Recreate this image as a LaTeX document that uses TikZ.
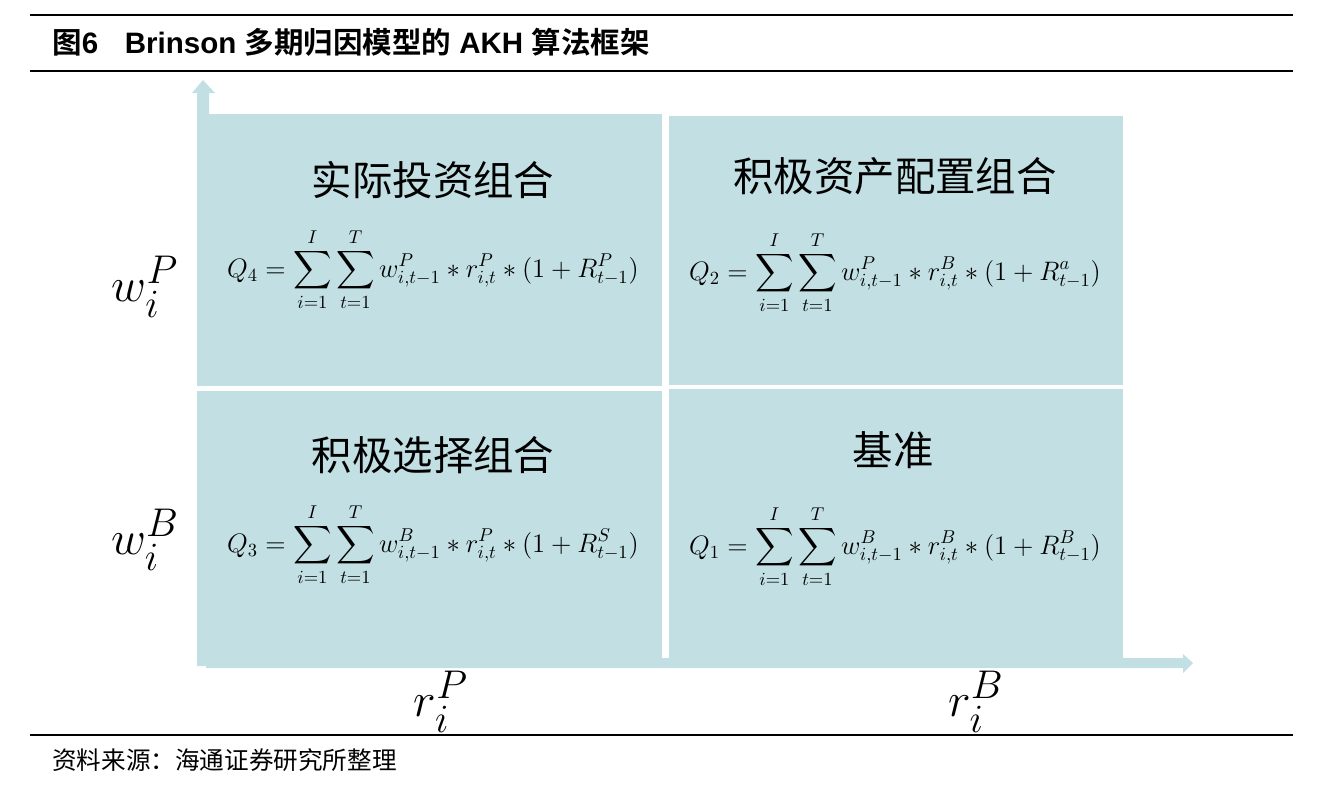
\documentclass[tikz,border=0pt]{standalone}
\usepackage{fontspec}
\usepackage{amsmath}
\setmainfont{Liberation Sans}
\newfontfamily\cjk{Noto Sans CJK SC}
\newfontfamily\cjkbold{Noto Sans CJK SC Bold}

\begin{document}
\begin{tikzpicture}[x=0.02cm, y=-0.02cm,
  quad/.style={fill=quadBlue, draw=none},
  qtitle/.style={font=\cjk\fontsize{23}{27}\selectfont},
  qformula/.style={font=\fontsize{14.4}{17}\selectfont, scale=1.055},
  axlabel/.style={font=\fontsize{24.88}{28}\selectfont, scale=1.1},
  rule/.style={line width=1.1pt}]

% Colori
\definecolor{quadBlue}{HTML}{C2E0E3}

\useasboundingbox (0,0) rectangle (1323,795);

% Titolo
\draw[rule] (30,15) -- (1293,15);
\node[anchor=west, inner sep=0pt, font=\fontsize{16.8}{20}\selectfont] (title) at (52,42)
  {{\cjkbold 图}{\bfseries 6\hspace{0.9em}Brinson }{\cjkbold 多期归因模型的}{\bfseries\ AKH }{\cjkbold 算法框架}};
\draw[rule] (30,71) -- (1293,71);

% Quadranti
\fill[quad] (197,114) rectangle (662,386);
\fill[quad] (669,116) rectangle (1123,385);
\fill[quad] (197,391) rectangle (662,666);
\fill[quad] (669,389) rectangle (1123,658);

% Assi
\fill[quad] (197,114) -- (197,93) -- (192,93) -- (203,80) -- (215,93)
  -- (209,93) -- (209,114) -- cycle;
\fill[quad] (197,658) -- (1183,658) -- (1183,654) -- (1193,663)
  -- (1183,673) -- (1183,668) -- (206,668) -- (206,666) -- (197,666) -- cycle;

% Titoli dei quadranti
\node[qtitle] (tl) at (433,180) {实际投资组合};
\node[qtitle] (tr) at (895,176) {积极资产配置组合};
\node[qtitle] (bl) at (433,455) {积极选择组合};
\node[qtitle] (br) at (893,450) {基准};

% Formule
\node[qformula] (q4) at (433,270)
  {$\displaystyle Q_4 = \sum_{i=1}^{I}\sum_{t=1}^{T} w^{P}_{i,t-1} \ast r^{P}_{i,t} \ast (1+R^{P}_{t-1})$};
\node[qformula] (q2) at (895,273)
  {$\displaystyle Q_2 = \sum_{i=1}^{I}\sum_{t=1}^{T} w^{P}_{i,t-1} \ast r^{B}_{i,t} \ast (1+R^{a}_{t-1})$};
\node[qformula] (q3) at (433,545)
  {$\displaystyle Q_3 = \sum_{i=1}^{I}\sum_{t=1}^{T} w^{B}_{i,t-1} \ast r^{P}_{i,t} \ast (1+R^{S}_{t-1})$};
\node[qformula] (q1) at (895,547)
  {$\displaystyle Q_1 = \sum_{i=1}^{I}\sum_{t=1}^{T} w^{B}_{i,t-1} \ast r^{B}_{i,t} \ast (1+R^{B}_{t-1})$};

% Etichette degli assi
\node[axlabel] (wp) at (145,287) {$w_i^P$};
\node[axlabel] (wb) at (145,540) {$w_i^B$};
\node[axlabel] (rp) at (441,702) {$r_i^P$};
\node[axlabel] (rb) at (976,702) {$r_i^B$};

% Fonte
\draw[rule] (30,735) -- (1293,735);
\node[anchor=west, inner sep=0pt, font=\cjk\fontsize{14}{17}\selectfont] (src) at (52,760)
  {资料来源：海通证券研究所整理};

\end{tikzpicture}
\end{document}
